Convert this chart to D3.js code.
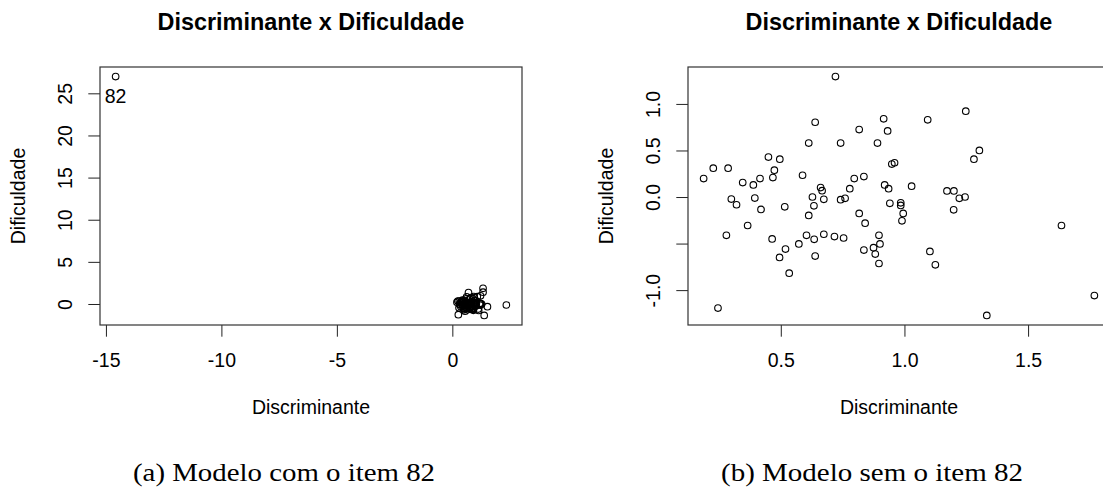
<!DOCTYPE html>
<html lang="pt">
<head>
	<meta charset="utf-8">
	<title>Discriminante x Dificuldade</title>
	<script src="https://d3js.org/d3.v7.min.js"></script>
	<style>
	body { margin: 0; background: #fff; }
	svg text { font-family: "Liberation Sans", Arial, sans-serif; fill: #000; }
	.titulo { font-weight: bold; font-size: 23.4px; }
	.rotulo, .tick text { font-size: 19.5px; }
	.legenda { font-family: "Liberation Serif", "DejaVu Serif", serif; font-size: 26px; }
	.caixa { fill: none; stroke: #333; stroke-width: 1.2px; }
	.tick line { stroke: #222; stroke-width: 1px; }
	.ponto { fill: none; stroke: #000; stroke-width: 1.1px; }
	</style>
</head>
<body>
<script>
	// (a) modelo com o item 82
	var discrimA = [0.70, 0.62, 0.60, 0.75, 0.80, 0.20, 0.24, 0.30, 0.44, 0.50,
		0.46, 0.47, 0.40, 0.38, 0.35, 0.57, 0.31, 0.33, 0.41, 0.43,
		0.52, 0.37, 0.29, 0.47, 0.53, 0.50, 0.55, 0.26, 0.58, 0.61,
		0.64, 0.65, 0.68, 0.73, 0.76, 0.62, 0.64, 0.63, 0.67, 0.68,
		0.69, 0.75, 0.77, 0.78, 0.81, 0.83, 1.22, 0.93, 1.08, 0.95,
		0.90, 1.33, 1.33, 0.96, 0.98, 0.85, 0.93, 0.95, 1.04, 1.18,
		1.21, 1.24, 1.27, 1.21, 0.95, 1.00, 1.01, 1.02, 1.00, 0.86,
		0.91, 0.92, 0.88, 0.90, 0.91, 0.85, 1.12, 1.14, 1.52, 2.34,
		1.38, -14.58];
	var difficA = [1.35, 0.85, 0.62, 0.60, 0.76, 0.21, 0.34, 0.33, 0.45, 0.43,
		0.30, 0.22, 0.21, 0.14, 0.17, 0.25, -0.02, -0.09, -0.01, -0.14,
		-0.11, -0.33, -0.44, -0.48, -0.59, -0.69, -0.86, -1.27, -0.53, -0.43,
		-0.48, -0.67, -0.42, -0.45, -0.46, -0.21, -0.10, 0.00, 0.11, 0.07,
		-0.03, -0.03, -0.01, 0.10, 0.21, -0.19, 0.97, 0.88, 0.87, 0.74,
		0.61, 1.86, 1.40, 0.37, 0.39, 0.23, 0.14, 0.10, 0.12, 0.07,
		0.07, -0.01, 0.00, -0.15, -0.07, -0.07, -0.10, -0.19, -0.27, -0.30,
		-0.43, -0.53, -0.57, -0.64, -0.75, -0.60, -0.61, -0.76, -0.32, -0.12,
		-1.36, 26.99];
	var rotuloA = "82"; // identified item, last entry of the (a) arrays

	// (b) modelo sem o item 82
	var discrimB = [0.721, 0.639, 0.613, 0.742, 0.817, 0.188, 0.227, 0.287, 0.450, 0.496,
		0.474, 0.468, 0.416, 0.389, 0.346, 0.588, 0.300, 0.321, 0.395, 0.420,
		0.516, 0.366, 0.280, 0.465, 0.519, 0.495, 0.534, 0.246, 0.573, 0.604,
		0.635, 0.639, 0.674, 0.717, 0.754, 0.613, 0.634, 0.628, 0.661, 0.667,
		0.674, 0.742, 0.760, 0.779, 0.797, 0.817, 1.248, 0.916, 1.094, 0.932,
		0.891, 1.303, 1.281, 0.949, 0.960, 0.836, 0.920, 0.936, 1.029, 1.172,
		1.200, 1.222, 1.245, 1.199, 0.941, 0.985, 0.985, 0.995, 0.990, 0.841,
		0.897, 0.901, 0.875, 0.882, 0.897, 0.836, 1.103, 1.125, 1.635, 1.768,
		1.333];
	var difficB = [1.294, 0.803, 0.580, 0.580, 0.724, 0.198, 0.310, 0.310, 0.429, 0.407,
		0.288, 0.209, 0.198, 0.130, 0.155, 0.234, -0.022, -0.083, -0.011, -0.133,
		-0.105, -0.306, -0.411, -0.450, -0.559, -0.649, -0.818, -1.193, -0.504, -0.411,
		-0.454, -0.634, -0.400, -0.425, -0.440, -0.198, -0.094, 0.000, 0.101, 0.068,
		-0.025, -0.029, -0.014, 0.090, 0.198, -0.176, 0.922, 0.840, 0.829, 0.710,
		0.580, 0.501, 0.407, 0.354, 0.368, 0.220, 0.130, 0.090, 0.116, 0.065,
		0.065, -0.014, 0.000, -0.137, -0.068, -0.062, -0.090, -0.176, -0.256, -0.281,
		-0.411, -0.504, -0.544, -0.613, -0.714, -0.570, -0.584, -0.728, -0.306, -1.059,
		-1.272];

	var ticksXA = [-15, -10, -5, 0];
	var ticksYA = [0, 5, 10, 15, 20, 25];
	var ticksXB = [0.5, 1.0, 1.5];
	var ticksYB = [-1.0, -0.5, 0.0, 0.5, 1.0];

	var titulo = "Discriminante x Dificuldade";
	var eixoX = "Discriminante";
	var eixoY = "Dificuldade";
	var legendas = ["(a) Modelo com o item 82", "(b) Modelo sem o item 82"];

	//SVG width and height
	var w = 1103, h = 492;
	var L = 23.4;          // one R margin line
	var boxW = 422, boxH = 258, boxTop = 67;

	var svg = d3.select("body")
		.append("svg")
		.attr("width", w)
		.attr("height", h);

	// R style limits: data range + 4%
	function lim(v) {
		var e = d3.extent(v), d = (e[1] - e[0]) * 0.04;
		return [e[0] - d, e[1] + d];
	}

	// plain hyphen minus, like R
	var fmtInt = function(d) { return String(d); };
	var fmtDec = function(d) { return d.toFixed(1); };

	// width of an "m" for the label overlap rule
	var mTest = svg.append("text").attr("class", "rotulo").text("m");
	var gapM = mTest.node().getComputedTextLength();
	mTest.remove();

	// drop labels that come closer than one "m" to the previous one
	function tirarSobrepostos(g, escala, crescente) {
		var ultimo = null;
		g.selectAll(".tick text").each(function(d) {
			var t = d3.select(this);
			var meia = this.getComputedTextLength() / 2, p = escala(d);
			var lo = p - meia, hi = p + meia;
			if (ultimo !== null) {
				var ok = crescente ? lo >= ultimo + gapM : hi <= ultimo - gapM;
				if (!ok) { t.remove(); return; }
			}
			ultimo = crescente ? hi : lo;
		});
	}

	function painel(ox, xs, ys, tx, ty, fmt, legenda, rotulo) {
		var left = ox + 100;
		var g = svg.append("g").attr("transform", "translate(" + left + "," + boxTop + ")");

		var x = d3.scaleLinear().domain(lim(xs)).range([0, boxW]);
		var y = d3.scaleLinear().domain(lim(ys)).range([boxH, 0]);

		// x axis
		var gx = g.append("g")
			.attr("transform", "translate(0," + boxH + ")")
			.call(d3.axisBottom(x).tickValues(tx).tickSize(L / 2).tickFormat(fmt));
		gx.select(".domain").remove();
		gx.selectAll(".tick text")
			.attr("y", 1.8 * L)
			.attr("dy", null)
			.attr("fill", "#000");
		tirarSobrepostos(gx, x, true);

		// y axis, labels parallel to the axis
		var gy = g.append("g")
			.call(d3.axisLeft(y).tickValues(ty).tickSize(L / 2).tickFormat(fmt));
		gy.select(".domain").remove();
		gy.selectAll(".tick text")
			.attr("x", 0)
			.attr("dy", null)
			.attr("text-anchor", "middle")
			.attr("fill", "#000")
			.attr("transform", "translate(" + (-1.2 * L) + ",0) rotate(-90)");
		// ticks come in ascending value order, i.e. bottom to top
		tirarSobrepostos(gy, y, false);

		g.append("rect")
			.attr("class", "caixa")
			.attr("width", boxW)
			.attr("height", boxH);

		g.selectAll("circle")
			.data(xs)
			.enter().append("circle")
			.attr("class", "ponto")
			.attr("cx", function(d) { return x(d); })
			.attr("cy", function(d, i) { return y(ys[i]); })
			.attr("r", 3.3);

		if (rotulo) {
			var n = xs.length - 1;
			g.append("text")
				.attr("class", "rotulo")
				.attr("x", x(xs[n]))
				.attr("y", y(ys[n]) + 26)
				.attr("text-anchor", "middle")
				.text(rotulo);
		}

		g.append("text")
			.attr("class", "titulo")
			.attr("x", boxW / 2)
			.attr("y", 30 - boxTop)
			.attr("text-anchor", "middle")
			.text(titulo);

		g.append("text")
			.attr("class", "rotulo")
			.attr("x", boxW / 2)
			.attr("y", boxH + 3.8 * L)
			.attr("text-anchor", "middle")
			.text(eixoX);

		g.append("text")
			.attr("class", "rotulo")
			.attr("transform", "translate(" + (-3.2 * L) + "," + (boxH / 2) + ") rotate(-90)")
			.attr("text-anchor", "middle")
			.text(eixoY);

		svg.append("text")
			.attr("class", "legenda")
			.attr("x", ox + 284)
			.attr("y", 481)
			.attr("text-anchor", "middle")
			.attr("textLength", 302)
			.attr("lengthAdjust", "spacingAndGlyphs")
			.text(legenda);
	}

	painel(0, discrimA, difficA, ticksXA, ticksYA, fmtInt, legendas[0], rotuloA);
	painel(588, discrimB, difficB, ticksXB, ticksYB, fmtDec, legendas[1], null);
</script>
</body>
</html>
